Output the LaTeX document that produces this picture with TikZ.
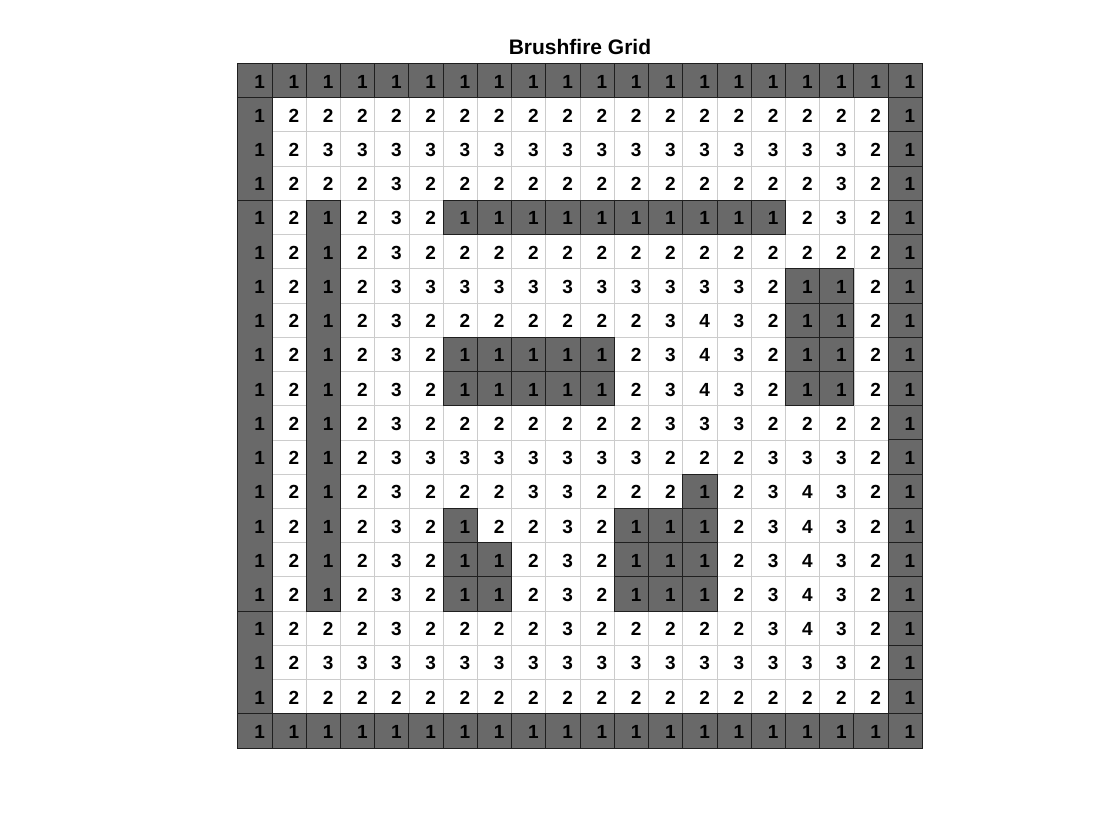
\documentclass[tikz,border=0pt]{standalone}
\usepackage{fontspec}
\setmainfont{Liberation Sans}
\begin{document}
\begin{tikzpicture}[x=1pt,y=-1pt,
  cellfill/.style={fill=black!59},
  celledge/.style={draw=black!88,line width=0.8pt},
  gridline/.style={draw=black!20,line width=0.6pt},
  digit/.style={inner sep=0pt,outer sep=0pt,anchor=base west,font=\fontsize{19}{19}\selectfont\bfseries},
  titletext/.style={inner sep=0pt,anchor=base,font=\fontsize{21}{21}\selectfont\bfseries}]
\def\cs{34.23}
\def\gx{237.7}
\def\gy{63.3}
\useasboundingbox[fill=white] (0,0) rectangle (1120,840);
\node[titletext] (title) at (580,55) {Brushfire Grid};
% light grid
\foreach \i in {0,...,20}{
  \draw[gridline] (\gx+\cs*\i,\gy) -- (\gx+\cs*\i,\gy+\cs*20);
  \draw[gridline] (\gx,\gy+\cs*\i) -- (\gx+\cs*20,\gy+\cs*\i);
}
\def\gridvalues{
{1,1,1,1,1,1,1,1,1,1,1,1,1,1,1,1,1,1,1,1},
{1,2,2,2,2,2,2,2,2,2,2,2,2,2,2,2,2,2,2,1},
{1,2,3,3,3,3,3,3,3,3,3,3,3,3,3,3,3,3,2,1},
{1,2,2,2,3,2,2,2,2,2,2,2,2,2,2,2,2,3,2,1},
{1,2,1,2,3,2,1,1,1,1,1,1,1,1,1,1,2,3,2,1},
{1,2,1,2,3,2,2,2,2,2,2,2,2,2,2,2,2,2,2,1},
{1,2,1,2,3,3,3,3,3,3,3,3,3,3,3,2,1,1,2,1},
{1,2,1,2,3,2,2,2,2,2,2,2,3,4,3,2,1,1,2,1},
{1,2,1,2,3,2,1,1,1,1,1,2,3,4,3,2,1,1,2,1},
{1,2,1,2,3,2,1,1,1,1,1,2,3,4,3,2,1,1,2,1},
{1,2,1,2,3,2,2,2,2,2,2,2,3,3,3,2,2,2,2,1},
{1,2,1,2,3,3,3,3,3,3,3,3,2,2,2,3,3,3,2,1},
{1,2,1,2,3,2,2,2,3,3,2,2,2,1,2,3,4,3,2,1},
{1,2,1,2,3,2,1,2,2,3,2,1,1,1,2,3,4,3,2,1},
{1,2,1,2,3,2,1,1,2,3,2,1,1,1,2,3,4,3,2,1},
{1,2,1,2,3,2,1,1,2,3,2,1,1,1,2,3,4,3,2,1},
{1,2,2,2,3,2,2,2,2,3,2,2,2,2,2,3,4,3,2,1},
{1,2,3,3,3,3,3,3,3,3,3,3,3,3,3,3,3,3,2,1},
{1,2,2,2,2,2,2,2,2,2,2,2,2,2,2,2,2,2,2,1},
{1,1,1,1,1,1,1,1,1,1,1,1,1,1,1,1,1,1,1,1}}
\foreach \row [count=\r] in \gridvalues {
  \foreach \v [count=\c] in \row {
    \ifnum\v=1
      \fill[cellfill] (\gx+\cs*\c-\cs,\gy+\cs*\r-\cs) rectangle ++(\cs,\cs);
      \pgfmathtruncatemacro{\merged}{(\c==1 && \r>1 && \r<20) || (\c==3 && \r>4 && \r<17) ? 1 : 0}
      \ifnum\merged=0
        \draw[celledge] (\gx+\cs*\c-\cs,\gy+\cs*\r-\cs) rectangle ++(\cs,\cs);
      \fi
    \fi
  }
}
% merged wall strips
\draw[celledge] (\gx,\gy+\cs*1) rectangle (\gx+\cs,\gy+\cs*4);
\draw[celledge] (\gx,\gy+\cs*4) rectangle (\gx+\cs,\gy+\cs*16);
\draw[celledge] (\gx,\gy+\cs*16) rectangle (\gx+\cs,\gy+\cs*19);
\draw[celledge] (\gx+\cs*2,\gy+\cs*4) rectangle (\gx+\cs*3,\gy+\cs*16);
% numbers
\foreach \row [count=\r] in \gridvalues {
  \foreach \v [count=\c] in \row {
    \node[digit] (n-\r-\c) at (\gx+\cs*\c-\cs/2-0.5,\gy+\cs*\r-\cs/2+7.6) {\v};
  }
}
\end{tikzpicture}
\end{document}
